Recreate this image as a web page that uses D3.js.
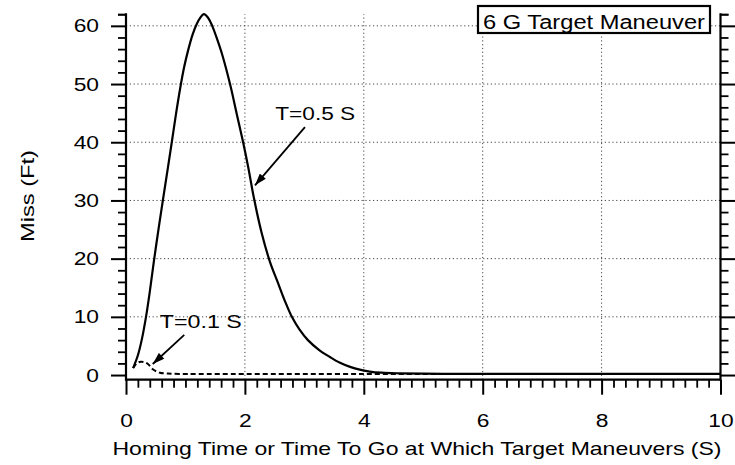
<!DOCTYPE html>
<html>
<head>
<meta charset="utf-8">
<script src="https://cdn.jsdelivr.net/npm/d3@7"></script>
<style>
  body { margin: 0; background: #fff; }
  text { font-family: "Liberation Sans", Arial, Helvetica, sans-serif; fill: #000; }
</style>
</head>
<body>
<svg id="chart" width="735" height="465"></svg>
<script>
// Miss distance (ft) vs. homing time for a 6 G target maneuver
const timeT05 = [0.12, 0.2, 0.27, 0.34, 0.4, 0.47, 0.55, 0.62, 0.7, 0.77, 0.84, 0.91, 0.98, 1.05, 1.12, 1.19, 1.25, 1.31,
                 1.38, 1.45, 1.53, 1.62, 1.75, 1.86, 1.97, 2.06, 2.15, 2.28, 2.42, 2.55, 2.67, 2.79, 2.92, 3.06, 3.25, 3.43,
                 3.6, 3.77, 3.95, 4.1, 4.3, 4.6, 5.0, 5.5, 6, 7, 8, 9, 10];
const missT05 = [1.2, 3.4, 6.3, 10.2, 14.3, 19.6, 25.3, 30, 35.3, 40, 44.8, 49.2, 53, 56, 58.5, 60.3, 61.4, 62,
                 61.4, 60, 57.8, 55, 50, 45, 40, 35.5, 30.5, 24.5, 19.5, 16, 12.8, 10, 7.8, 6, 4.3, 3.1,
                 2.1, 1.4, 0.9, 0.6, 0.4, 0.3, 0.25, 0.2, 0.2, 0.2, 0.2, 0.2, 0.2];

const timeT01 = [0.12, 0.18, 0.25, 0.31, 0.37, 0.45, 0.57, 0.7, 0.9, 1.2, 2, 4, 6, 8, 10];
const missT01 = [1.2, 2.0, 2.3, 2.2, 1.9, 1.0, 0.4, 0.25, 0.2, 0.2, 0.2, 0.2, 0.2, 0.2, 0.2];

const xMajorTicks = [0, 2, 4, 6, 8, 10];
const yMajorTicks = [0, 10, 20, 30, 40, 50, 60];
const xMinorStep = 0.2;
const yMinorStep = 2;

const legendText = "6 G Target Maneuver";
const xTitle = "Homing Time or Time To Go at Which Target Maneuvers (S)";
const yTitle = "Miss (Ft)";

// annotation labels and their arrows, in data units
const annotations = [
  { label: "T=0.5 S", lx: 2.51, ly: 43.8, len: 80, from: [3.01, 42.6], to: [2.17, 32.6] },
  { label: "T=0.1 S", lx: 0.57, ly: 8.1,  len: 82, from: [0.98, 6.9],  to: [0.45, 1.9] }
];

const svg = d3.select("#chart");
const x = d3.scaleLinear().domain([0, 10]).range([126, 720.5]);
const y = d3.scaleLinear().domain([-0.8, 62]).range([379.7, 14.2]);
const sx = 1.2; // wide lettering

const xMinor = d3.range(0, 51).map(i => +(i * xMinorStep).toFixed(1)).filter(v => !xMajorTicks.includes(v));
const yMinor = d3.range(0, 63, yMinorStep).filter(v => !yMajorTicks.includes(v));

// dotted grid
const grid = svg.append("g").attr("stroke", "#444").attr("stroke-width", 1).attr("stroke-dasharray", "1.2,2.6");
grid.selectAll("line.h").data(yMajorTicks.filter(d => d > 0)).join("line")
  .attr("x1", x(0)).attr("x2", x(10)).attr("y1", d => y(d)).attr("y2", d => y(d));
grid.selectAll("line.v").data(xMajorTicks.filter(d => d > 0 && d < 10)).join("line")
  .attr("x1", d => x(d)).attr("x2", d => x(d)).attr("y1", y(-0.8)).attr("y2", y(62));

function styleTicks(g, w) {
  g.select(".domain").remove();
  g.selectAll(".tick line").attr("stroke", "#000").attr("stroke-width", w);
}

// bottom axis
const gxMinor = svg.append("g").attr("transform", `translate(0,${y(-0.8)})`)
  .call(d3.axisBottom(x).tickValues(xMinor).tickSize(8).tickSizeOuter(0).tickFormat(""));
styleTicks(gxMinor, 1.8);
const gx = svg.append("g").attr("transform", `translate(0,${y(-0.8)})`)
  .call(d3.axisBottom(x).tickValues(xMajorTicks).tickSize(15).tickSizeOuter(0));
styleTicks(gx, 2);
gx.selectAll(".tick text").attr("y", 47).attr("dy", null).attr("font-size", 19)
  .attr("transform", `scale(${sx},1)`);

// left axis
const gyMinor = svg.append("g").attr("transform", `translate(${x(0)},0)`)
  .call(d3.axisLeft(y).tickValues(yMinor.concat([62])).tickSize(8).tickSizeOuter(0).tickFormat(""));
styleTicks(gyMinor, 1.8);
const gy = svg.append("g").attr("transform", `translate(${x(0)},0)`)
  .call(d3.axisLeft(y).tickValues(yMajorTicks).tickSize(15).tickSizeOuter(0));
styleTicks(gy, 2);
gy.selectAll(".tick text").attr("x", -27 / sx).attr("font-size", 19)
  .attr("transform", `scale(${sx},1)`);

// right axis
const grMinor = svg.append("g").attr("transform", `translate(${x(10)},0)`)
  .call(d3.axisRight(y).tickValues(yMinor.concat([62])).tickSize(8).tickSizeOuter(0).tickFormat(""));
styleTicks(grMinor, 1.8);
const gr = svg.append("g").attr("transform", `translate(${x(10)},0)`)
  .call(d3.axisRight(y).tickValues(yMajorTicks).tickSize(15).tickSizeOuter(0).tickFormat(""));
styleTicks(gr, 2);

// axis lines
const frame = svg.append("g").attr("stroke", "#000").attr("stroke-width", 2.2);
frame.append("line").attr("x1", x(0)).attr("x2", x(0)).attr("y1", y(62) - 1).attr("y2", y(-0.8) + 1);
frame.append("line").attr("x1", x(10)).attr("x2", x(10)).attr("y1", y(62) - 1).attr("y2", y(-0.8) + 1);
frame.append("line").attr("x1", x(0)).attr("x2", x(10)).attr("y1", y(-0.8)).attr("y2", y(-0.8));

// curves
const line = d3.line().x(d => x(d[0])).y(d => y(d[1])).curve(d3.curveCatmullRom.alpha(0.5));
svg.append("path").datum(d3.zip(timeT01, missT01)).attr("d", line)
  .attr("fill", "none").attr("stroke", "#000").attr("stroke-width", 2).attr("stroke-dasharray", "5,3");
svg.append("path").datum(d3.zip(timeT05, missT05)).attr("d", line)
  .attr("fill", "none").attr("stroke", "#000").attr("stroke-width", 2.2);

// arrow annotations
svg.append("defs").append("marker")
  .attr("id", "head").attr("viewBox", "0 0 12 8").attr("refX", 12).attr("refY", 4)
  .attr("markerWidth", 13).attr("markerHeight", 8).attr("markerUnits", "userSpaceOnUse")
  .attr("orient", "auto")
  .append("path").attr("d", "M0,0 L12,4 L0,8 Z").attr("fill", "#000");

const ann = svg.append("g");
ann.selectAll("line").data(annotations).join("line")
  .attr("x1", d => x(d.from[0])).attr("y1", d => y(d.from[1]))
  .attr("x2", d => x(d.to[0])).attr("y2", d => y(d.to[1]))
  .attr("stroke", "#000").attr("stroke-width", 1.8).attr("marker-end", "url(#head)");
ann.selectAll("text").data(annotations).join("text")
  .attr("x", d => x(d.lx)).attr("y", d => y(d.ly))
  .attr("font-size", 18.5).attr("textLength", d => d.len).attr("lengthAdjust", "spacingAndGlyphs")
  .text(d => d.label);

// legend box
const lg = svg.append("g");
lg.append("rect").attr("x", 478).attr("y", 6).attr("width", 232).attr("height", 27)
  .attr("fill", "#fff").attr("stroke", "#000").attr("stroke-width", 2.2);
lg.append("text").attr("x", 483).attr("y", 29).attr("font-size", 20)
  .attr("textLength", 222).attr("lengthAdjust", "spacingAndGlyphs").text(legendText);

// axis titles
svg.append("text").attr("x", 417).attr("y", 455).attr("text-anchor", "middle")
  .attr("font-size", 18.5).attr("textLength", 609).attr("lengthAdjust", "spacingAndGlyphs").text(xTitle);
svg.append("text").attr("transform", "translate(34,196) rotate(-90)").attr("text-anchor", "middle")
  .attr("font-size", 18.5).attr("textLength", 92).attr("lengthAdjust", "spacingAndGlyphs").text(yTitle);
</script>
</body>
</html>
